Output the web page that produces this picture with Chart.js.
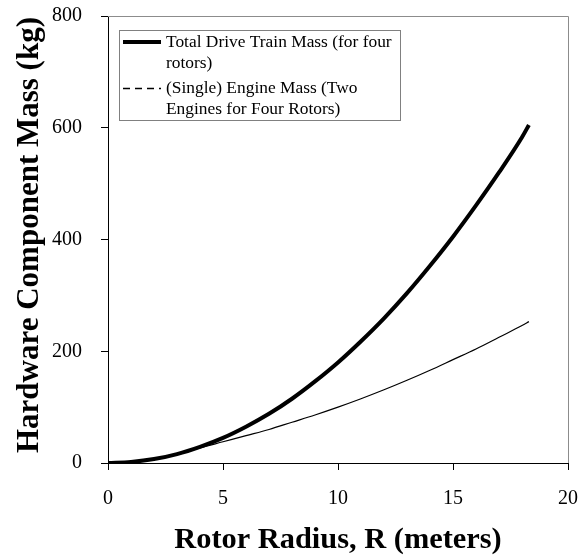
<!DOCTYPE html>
<html>
<head>
<meta charset="utf-8">
<script src="https://cdn.jsdelivr.net/npm/chart.js@4.4.1/dist/chart.umd.min.js"></script>
<style>
  html, body { margin: 0; padding: 0; background: #fff; }
  #wrap { width: 587px; height: 559px; position: relative; }
</style>
</head>
<body>
<div id="wrap"><canvas id="c" width="587" height="559"></canvas></div>
<script>
// ---- Data ----
const radius     = [0, 1, 2, 3, 4, 5, 6, 7, 8, 9, 10, 11, 12, 13, 14, 15, 16, 17, 18, 18.3];
const totalMass  = [0, 2, 7, 16, 29, 45, 65, 88, 115, 146, 180, 218, 259, 304, 353, 405, 461, 520, 583, 605];
const engineMass = [0, 2, 7, 15, 27, 38, 49, 60, 73, 86, 100, 115, 131, 148, 166, 185, 204, 225, 246, 253];
const xTicks = [0, 5, 10, 15, 20];
const yTicks = [0, 200, 400, 600, 800];
const seriesLabels = ["Total Drive Train Mass (for four rotors)", "(Single) Engine Mass (Two Engines for Four Rotors)"];
const legendLines = [["Total Drive Train Mass (for four", "rotors)"], ["(Single) Engine Mass (Two", "Engines for Four Rotors)"]];
const xTitle = "Rotor Radius, R (meters)";
const yTitle = "Hardware Component Mass (kg)";

const SERIF = "'Liberation Serif', 'Times New Roman', serif";

const toXY = (ys) => radius.map((r, i) => ({ x: r, y: ys[i] }));

const zeroPad = (s) => { s.paddingTop = 0; s.paddingBottom = 0; s.paddingLeft = 0; s.paddingRight = 0; };

const decorPlugin = {
  id: 'decor',
  afterDraw(chart) {
    const ctx = chart.ctx;
    const a = chart.chartArea;
    ctx.save();
    // grey top & right frame
    ctx.strokeStyle = '#8c8c8c';
    ctx.lineWidth = 1;
    ctx.beginPath();
    ctx.moveTo(a.left, Math.round(a.top) + 0.5);
    ctx.lineTo(Math.round(a.right) + 0.5, Math.round(a.top) + 0.5);
    ctx.lineTo(Math.round(a.right) + 0.5, a.bottom);
    ctx.stroke();

    // legend box
    const bx = 119.5, by = 30.5, bw = 281, bh = 90;
    ctx.fillStyle = '#fff';
    ctx.fillRect(bx, by, bw, bh);
    ctx.strokeStyle = '#808080';
    ctx.strokeRect(bx, by, bw, bh);
    // samples
    ctx.strokeStyle = '#000';
    ctx.lineWidth = 4;
    ctx.beginPath(); ctx.moveTo(123, 42); ctx.lineTo(161, 42); ctx.stroke();
    ctx.lineWidth = 1.6;
    ctx.setLineDash([7, 5]);
    ctx.beginPath(); ctx.moveTo(123, 88.5); ctx.lineTo(161, 88.5); ctx.stroke();
    ctx.setLineDash([]);
    ctx.fillStyle = '#000';
    ctx.font = "17.4px " + SERIF;
    ctx.textBaseline = 'middle';
    ctx.textAlign = 'left';
    const ys = [[42, 63], [88, 109]];
    legendLines.forEach((lines, i) => lines.forEach((t, j) => ctx.fillText(t, 166, ys[i][j])));

    // axis titles
    ctx.font = "bold 30.4px " + SERIF;
    ctx.textAlign = 'center';
    ctx.textBaseline = 'alphabetic';
    ctx.fillText(xTitle, (a.left + a.right) / 2, 548);
    ctx.font = "bold 31px " + SERIF;
    ctx.translate(38, 235);
    ctx.rotate(-Math.PI / 2);
    ctx.fillText(yTitle, 0, 0);
    ctx.restore();
  }
};

new Chart(document.getElementById('c'), {
  type: 'line',
  data: {
    datasets: [
      { label: seriesLabels[0], data: toXY(totalMass), borderColor: '#000', borderWidth: 4,
        pointRadius: 0, fill: false, cubicInterpolationMode: 'monotone' },
      { label: seriesLabels[1], data: toXY(engineMass), borderColor: '#000', borderWidth: 1.2,
        pointRadius: 0, fill: false, cubicInterpolationMode: 'monotone' }
    ]
  },
  options: {
    responsive: false,
    animation: false,
    devicePixelRatio: 1,
    layout: { padding: { left: 0, right: 19, top: 16, bottom: 0 } },
    plugins: { legend: { display: false }, tooltip: { enabled: false } },
    scales: {
      x: {
        type: 'linear', min: 0, max: 20,
        afterBuildTicks: (s) => { s.ticks = xTicks.map(v => ({ value: v })); },
        afterFit: (s) => { s.height = 96; zeroPad(s); },
        ticks: { color: '#000', font: { family: SERIF, size: 20 }, padding: 17 },
        grid: { drawOnChartArea: false, drawTicks: true, tickLength: 7, color: '#000' },
        border: { color: '#000', width: 1 }
      },
      y: {
        type: 'linear', min: 0, max: 800,
        afterBuildTicks: (s) => { s.ticks = yTicks.map(v => ({ value: v })); },
        afterFit: (s) => { s.width = 108; zeroPad(s); },
        ticks: { color: '#000', font: { family: SERIF, size: 20 }, padding: 19 },
        grid: { drawOnChartArea: false, drawTicks: true, tickLength: 7, color: '#000' },
        border: { color: '#000', width: 1 }
      }
    }
  },
  plugins: [decorPlugin]
});
</script>
</body>
</html>
